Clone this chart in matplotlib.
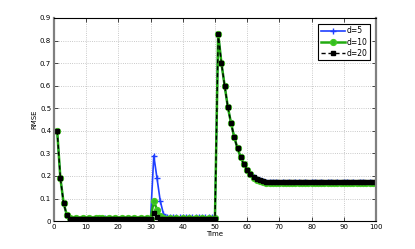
import matplotlib
matplotlib.use("Agg")
import matplotlib.pyplot as plt

# time steps 1..100
time = list(range(1, 101))

# RMSE per window length d
rmse_d5 = [
    0.40, 0.19, 0.08, 0.025, 0.011, 0.010, 0.011, 0.010, 0.011, 0.010,
    0.011, 0.010, 0.011, 0.010, 0.011, 0.012, 0.011, 0.010, 0.011, 0.010,
    0.011, 0.010, 0.011, 0.010, 0.011, 0.010, 0.011, 0.010, 0.011, 0.010,
    0.290, 0.190, 0.090, 0.032, 0.020, 0.018, 0.019, 0.018, 0.018, 0.019,
    0.018, 0.018, 0.019, 0.018, 0.018, 0.019, 0.018, 0.018, 0.019, 0.018,
    0.830, 0.700, 0.600, 0.505, 0.433, 0.371, 0.322, 0.282, 0.251, 0.226,
    0.208, 0.195, 0.186, 0.180, 0.176, 0.174, 0.173, 0.172, 0.172, 0.171,
    0.172, 0.171, 0.172, 0.171, 0.172, 0.172, 0.171, 0.172, 0.171, 0.172,
    0.172, 0.171, 0.172, 0.171, 0.172, 0.172, 0.171, 0.172, 0.171, 0.172,
    0.172, 0.171, 0.172, 0.171, 0.172, 0.172, 0.171, 0.172, 0.171, 0.172,
]
rmse_d10 = [
    0.40, 0.19, 0.08, 0.026, 0.012, 0.011, 0.012, 0.011, 0.012, 0.011,
    0.012, 0.011, 0.012, 0.013, 0.012, 0.011, 0.012, 0.011, 0.012, 0.011,
    0.012, 0.011, 0.012, 0.011, 0.012, 0.011, 0.012, 0.011, 0.012, 0.011,
    0.090, 0.050, 0.022, 0.013, 0.011, 0.012, 0.011, 0.012, 0.011, 0.012,
    0.011, 0.012, 0.011, 0.012, 0.011, 0.012, 0.011, 0.012, 0.011, 0.012,
    0.830, 0.700, 0.600, 0.505, 0.433, 0.371, 0.322, 0.282, 0.251, 0.226,
    0.207, 0.193, 0.184, 0.177, 0.173, 0.170, 0.168, 0.167, 0.167, 0.168,
    0.167, 0.168, 0.167, 0.168, 0.168, 0.167, 0.168, 0.167, 0.168, 0.167,
    0.168, 0.167, 0.168, 0.168, 0.167, 0.168, 0.167, 0.168, 0.167, 0.168,
    0.168, 0.167, 0.168, 0.167, 0.168, 0.168, 0.167, 0.168, 0.167, 0.168,
]
rmse_d20 = [
    0.40, 0.19, 0.08, 0.025, 0.010, 0.010, 0.009, 0.010, 0.010, 0.010,
    0.010, 0.010, 0.010, 0.010, 0.010, 0.010, 0.010, 0.010, 0.010, 0.010,
    0.010, 0.010, 0.010, 0.010, 0.010, 0.010, 0.010, 0.010, 0.010, 0.010,
    0.035, 0.020, 0.011, 0.010, 0.010, 0.010, 0.010, 0.010, 0.010, 0.010,
    0.010, 0.010, 0.010, 0.010, 0.010, 0.010, 0.010, 0.010, 0.010, 0.010,
    0.830, 0.700, 0.600, 0.505, 0.433, 0.371, 0.322, 0.282, 0.251, 0.226,
    0.208, 0.194, 0.186, 0.180, 0.176, 0.174, 0.173, 0.172, 0.172, 0.172,
    0.172, 0.172, 0.172, 0.172, 0.172, 0.172, 0.172, 0.172, 0.172, 0.172,
    0.172, 0.172, 0.172, 0.172, 0.172, 0.172, 0.172, 0.172, 0.172, 0.172,
    0.172, 0.172, 0.172, 0.172, 0.172, 0.172, 0.172, 0.172, 0.172, 0.172,
]

plt.rcParams["font.family"] = "DejaVu Sans"
plt.rcParams["font.size"] = 5

fig = plt.figure(figsize=(4.15, 2.49), dpi=100)
ax = fig.add_axes([0.130, 0.112, 0.776, 0.816])

ax.plot(time, rmse_d5, color="#1f3fff", lw=1.2, marker="+", ms=4, mew=1.0, label="d=5")
ax.plot(time, rmse_d10, color="#22aa11", lw=1.8, marker="o", ms=4.2,
        mfc="#33bb22", mec="#44cc22", label="d=10")
ax.plot(time, rmse_d20, color="black", lw=1.0, ls="--", dashes=(3, 2), marker="s", ms=2.4,
        mfc="black", mec="black", label="d=20")

ax.set_xlim(0, 100)
ax.set_ylim(0, 0.9)
ax.set_xticks(range(0, 101, 10))
ax.set_yticks([i / 10 for i in range(10)])
ax.set_yticklabels(["0", "0.1", "0.2", "0.3", "0.4", "0.5", "0.6", "0.7", "0.8", "0.9"])
ax.set_xlabel("Time", labelpad=1)
ax.set_ylabel("RMSE", labelpad=2)

ax.grid(True, ls=":", color="#b8b8b8", lw=0.6)
ax.tick_params(direction="in", length=3, width=0.5, pad=2)
ax.tick_params(top=True, right=True)
for side in ("top", "bottom"):
    ax.spines[side].set_linewidth(0.8)
    ax.spines[side].set_color("black")
for side in ("left", "right"):
    ax.spines[side].set_linewidth(1.6)
    ax.spines[side].set_color("#808080")

leg = ax.legend(loc="upper right", fancybox=False, framealpha=1, handlelength=3.2,
                borderpad=0.3, labelspacing=0.3, handletextpad=0.2,
                borderaxespad=0.8, fontsize=5.5)
leg.get_frame().set_edgecolor("black")
leg.get_frame().set_linewidth(0.8)

fig.savefig("out.png", dpi=100)
